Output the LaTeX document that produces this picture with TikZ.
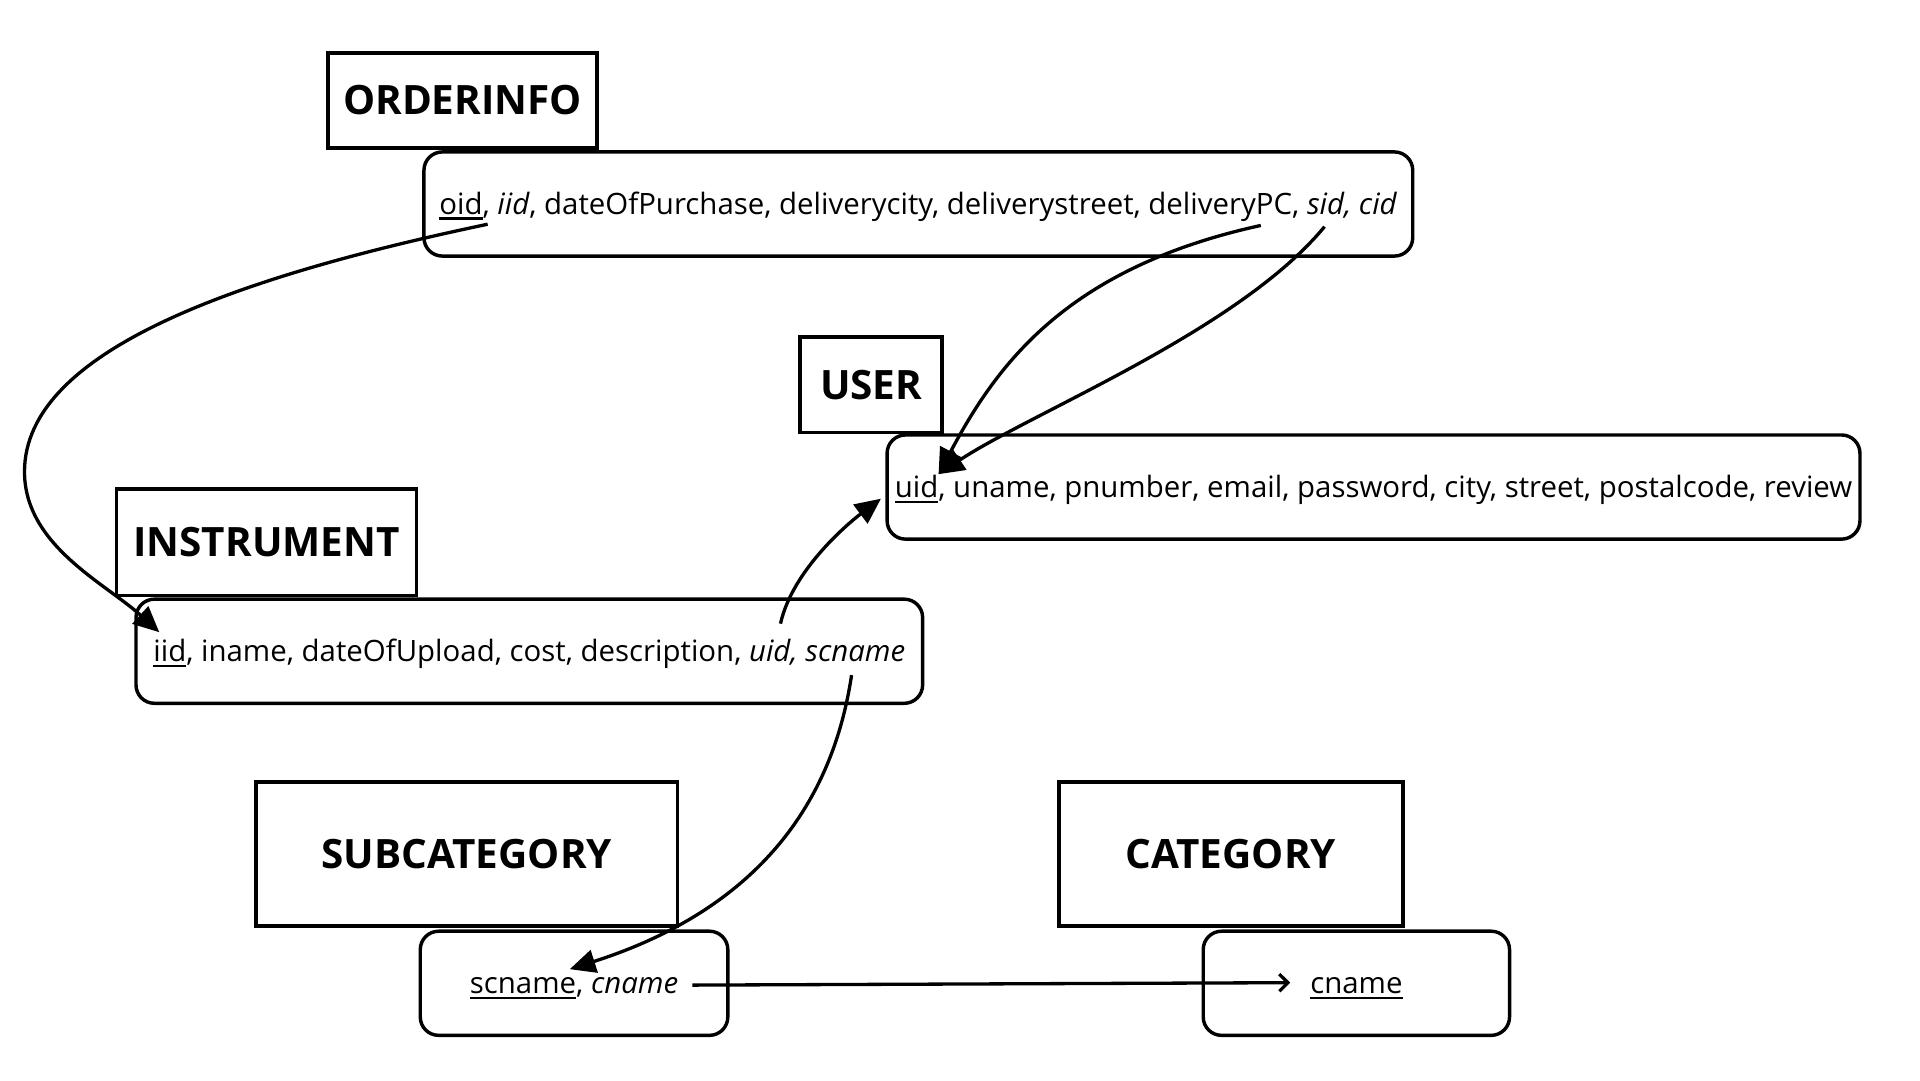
\documentclass[tikz,border=0pt]{standalone}
\usepackage{fontspec}
\setmainfont{Open Sans}
\usetikzlibrary{arrows.meta}
\newcommand{\myul}[1]{\setbox0\hbox{#1}\rlap{\rule[-4.2pt]{\wd0}{1.7pt}}\box0}
\begin{document}
\begin{tikzpicture}[x=1pt,y=-1pt,
  title/.style={draw, line width=3.1pt, inner sep=0pt, font=\fontsize{33}{38}\selectfont\bfseries},
  attrbox/.style={draw, line width=2.8pt, rounded corners=15pt, inner sep=0pt, minimum height=85pt, text height=17pt, text depth=0pt, font=\fontsize{24}{28}\selectfont},
  fk/.style={line width=2.7pt, -{Triangle[length=21pt,width=19pt]}},
  ref/.style={line width=2.7pt, -{Straight Barb[length=7pt,width=14pt,line width=2.7pt]}}]
\useasboundingbox (0,0) rectangle (1567,882);

\node[attrbox, minimum width=807pt] (ordA) at (749.5,166.5) {\myul{oid}, \textit{iid}, dateOfPurchase, deliverycity, deliverystreet, deliveryPC, \textit{sid, cid}};
\node[title, minimum width=219pt, minimum height=78pt] (ordT) at (377.5,82) {ORDERINFO};

\node[attrbox, minimum width=794pt] (usrA) at (1121,397.5) {\myul{uid}, uname, pnumber, email, password, city, street, postalcode, review};
\node[title, minimum width=116pt, minimum height=78pt] (usrT) at (711,314) {USER};

\node[attrbox, minimum width=642pt] (insA) at (432,531.5) {\myul{iid}, iname, dateOfUpload, cost, description, \textit{uid, scname}};
\node[title, minimum width=245pt, minimum height=87pt] (insT) at (217.5,442.5) {INSTRUMENT};

\node[attrbox, minimum width=251pt] (subA) at (468.5,802.5) {\myul{scname}, \textit{cname}};
\node[title, minimum width=344pt, minimum height=118pt] (subT) at (381,697) {SUBCATEGORY};

\node[attrbox, minimum width=250pt] (catA) at (1107,802.5) {\myul{cname}};
\node[title, minimum width=281pt, minimum height=118pt] (catT) at (1004.5,697) {CATEGORY};

\coordinate (aS) at (398,183);
\coordinate (aL) at (20,385);
\coordinate (aE) at (130,516);
\coordinate (bS) at (1029,184);
\coordinate (bE) at (766,387);
\coordinate (cS) at (1081,185);
\coordinate (cE) at (766,387);
\coordinate (dS) at (637,509);
\coordinate (dE) at (719,407);
\coordinate (eS) at (695,551);
\coordinate (eE) at (465,791);
\coordinate (fS) at (565,804);
\coordinate (fE) at (1053,802);

\draw[fk] (aS) .. controls +(-200,42) and +(0,-100) .. (aL) .. controls +(0,60) and +(-44,-40) .. (aE);
\draw[fk] (bS) .. controls +(-160,35) and +(47,-88) .. (bE);
\draw[fk] (cS) .. controls +(-70,85) and +(75,-50) .. (cE);
\draw[fk] (dS) .. controls +(10,-45) and +(-24,18) .. (dE);
\draw[fk] (eS) .. controls +(-12,80) and +(175,-56) .. (eE);
\draw[ref] (fS) -- (fE);
\end{tikzpicture}
\end{document}
